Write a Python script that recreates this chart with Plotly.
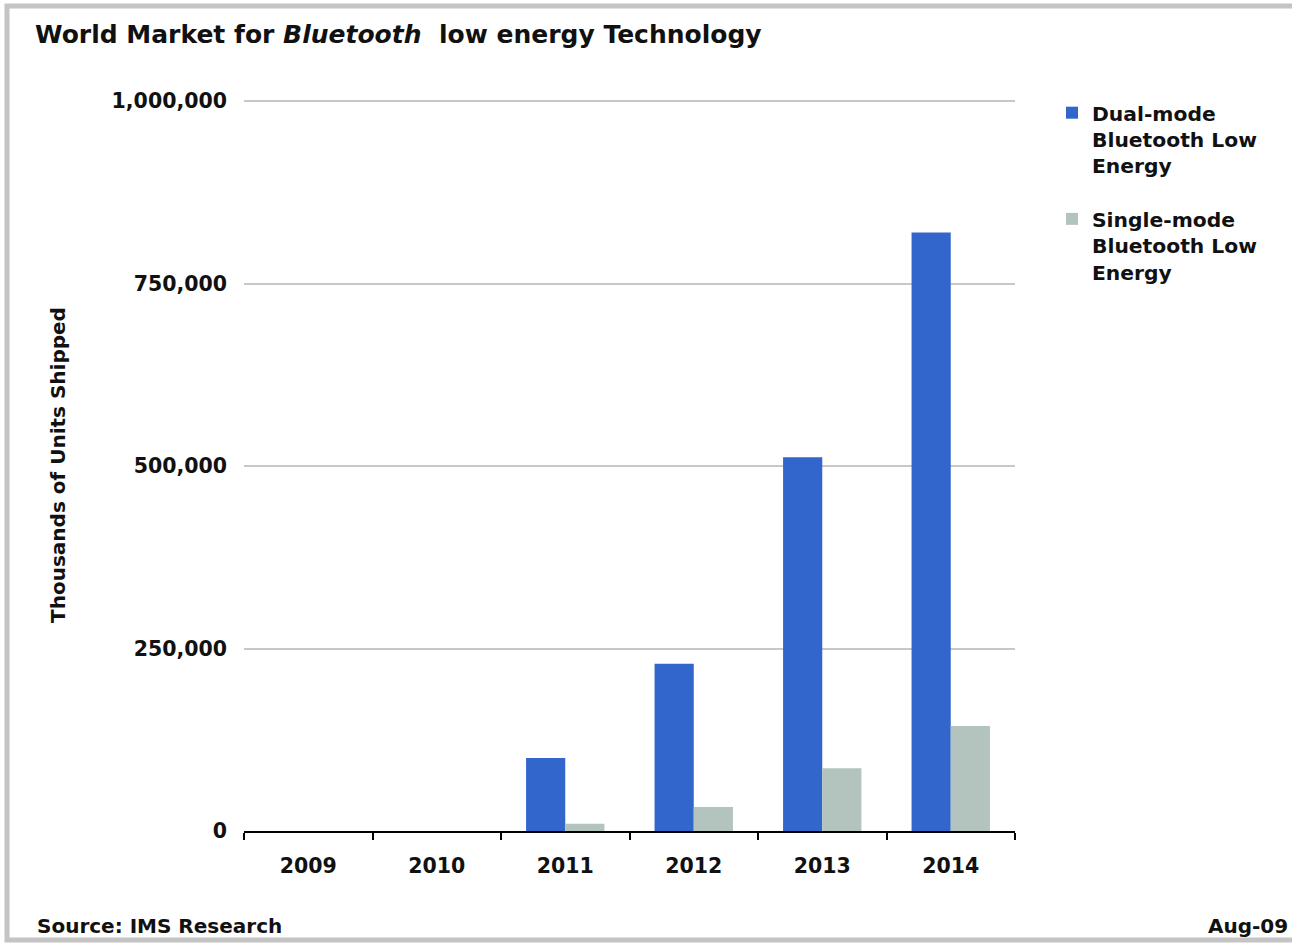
import plotly.graph_objects as go

years = ["2009", "2010", "2011", "2012", "2013", "2014"]
dual_mode = [0, 0, 100000, 229000, 512000, 820000]
single_mode = [0, 0, 10000, 33000, 86000, 144000]
y_ticks = [0, 250000, 500000, 750000, 1000000]
y_tick_text = ["0", "250,000", "500,000", "750,000", "1,000,000"]

DUAL_COLOR = "#3366CC"
SINGLE_COLOR = "#B3C3BD"
TEXT = "#111111"

fig = go.Figure()
fig.add_trace(go.Bar(
    x=years, y=dual_mode,
    name="Dual-mode<br>Bluetooth Low<br>Energy",
    marker=dict(color=DUAL_COLOR, line=dict(width=0)),
    legendgroup="dual",
))
fig.add_trace(go.Bar(
    x=years, y=single_mode,
    name="Single-mode<br>Bluetooth Low<br>Energy",
    marker=dict(color=SINGLE_COLOR, line=dict(width=0)),
    legendgroup="single",
))

# plot area pixel geometry helpers (for decorations only)
L, R, T, B = 244, 1015, 99, 831
W, H = R - L, B - T
Y_MAX = 1000000 * H / (B - 101)   # top gridline (1,000,000) sits at y=101 px

def px(x):
    return (x - L) / W

def py(y):
    return (B - y) / H

fig.update_layout(
    width=1292, height=943,
    margin=dict(l=L, r=1292 - R, t=T, b=943 - B, autoexpand=False),
    paper_bgcolor="white", plot_bgcolor="white",
    barmode="group", bargap=0.39, bargroupgap=0,
    title=dict(
        text="World Market for <i>Bluetooth</i>  low energy Technology",
        font=dict(family="DejaVu Sans", size=25, color=TEXT, weight="bold"),
        xref="container", yref="container",
        x=35 / 1292, xanchor="left",
        y=1 - 34 / 943, yanchor="middle",
    ),
    showlegend=True,
    legend=dict(
        x=px(1052), xanchor="left",
        y=py(93), yanchor="top",
        font=dict(family="DejaVu Sans", size=20.3, color=TEXT, weight="bold"),
        valign="top",
        tracegroupgap=24,
        itemwidth=30,
        bgcolor="rgba(0,0,0,0)",
        traceorder="grouped",
    ),
    xaxis=dict(
        type="category",
        showline=True, linecolor="black", linewidth=2,
        ticks="outside", tickson="boundaries", ticklen=7, tickwidth=2, tickcolor="black",
        tickfont=dict(family="DejaVu Sans", size=20.5, color=TEXT, weight="bold"),
        ticklabelstandoff=15,
        showgrid=False, zeroline=False,
    ),
    yaxis=dict(
        range=[0, Y_MAX],
        tickvals=y_ticks, ticktext=y_tick_text,
        showgrid=True, gridcolor="#C8C8C8", gridwidth=2,
        zeroline=False, showline=False, ticks="",
        ticklabelstandoff=16,
        tickfont=dict(family="DejaVu Sans", size=20.5, color=TEXT, weight="bold"),
        title=dict(
            text="Thousands of Units Shipped",
            font=dict(family="DejaVu Sans", size=20, color=TEXT, weight="bold"),
            standoff=40,
        ),
        automargin=False,
    ),
    shapes=[
        dict(type="rect", xref="paper", yref="paper",
             x0=px(7), x1=px(1310), y0=py(6), y1=py(940),
             line=dict(color="#C4C4C4", width=5), fillcolor="rgba(0,0,0,0)", layer="below"),
    ],
    annotations=[
        dict(text="Source: IMS Research", xref="paper", yref="paper",
             x=px(35), y=py(926), xanchor="left", yanchor="middle", showarrow=False,
             font=dict(family="DejaVu Sans", size=20, color=TEXT, weight="bold")),
        dict(text="Aug-09", xref="paper", yref="paper",
             x=px(1290), y=py(926), xanchor="right", yanchor="middle", showarrow=False,
             font=dict(family="DejaVu Sans", size=20, color=TEXT, weight="bold")),
    ],
)

fig.write_html("out.html", config={"displayModeBar": False},
               post_script="document.body.style.margin='0px';")
